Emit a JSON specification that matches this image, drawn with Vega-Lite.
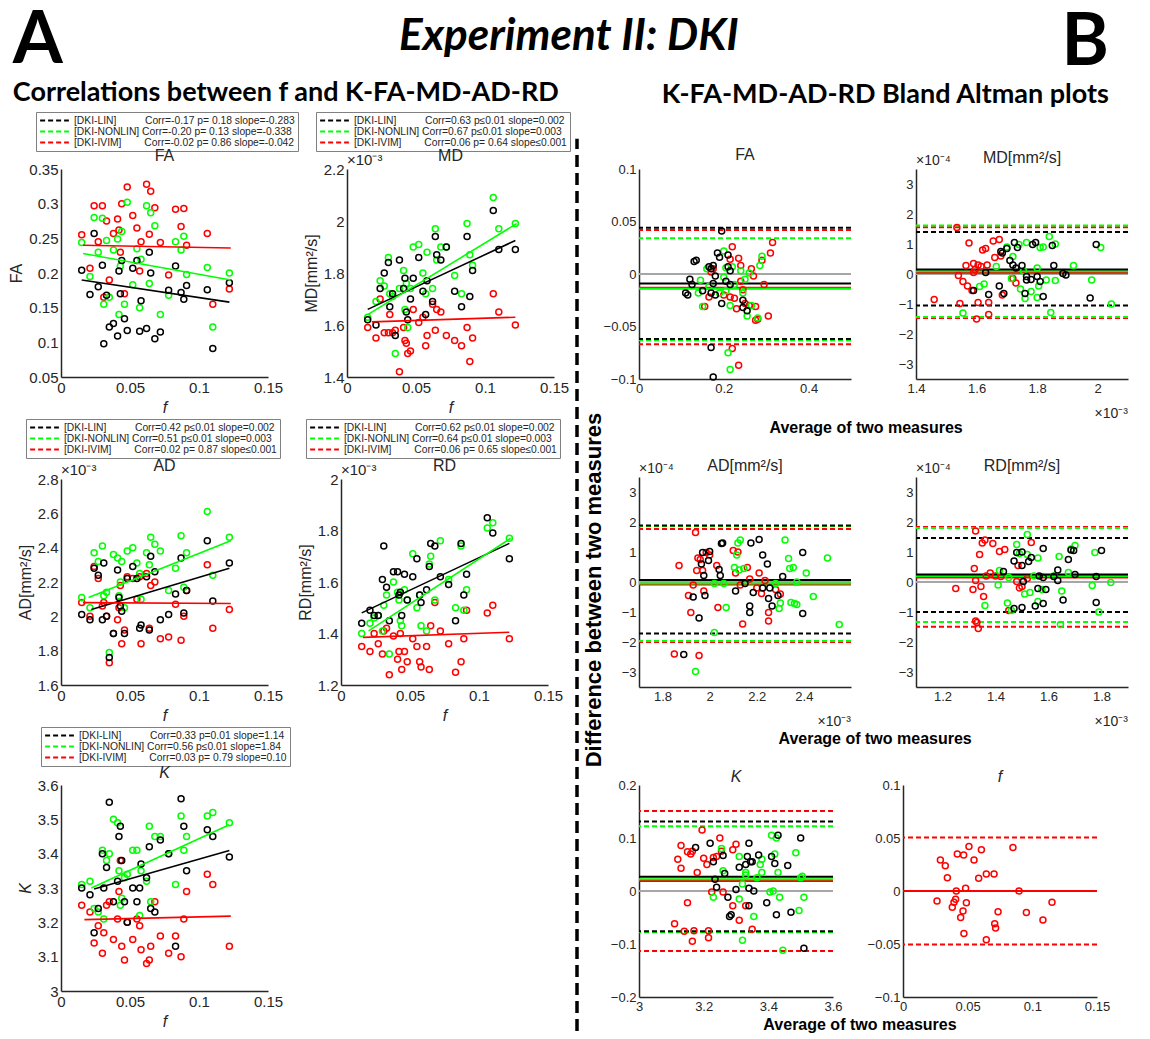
{
"$schema":"https://vega.github.io/schema/vega-lite/v6.json",
"background":"white",
"padding":{"left":8,"top":4,"right":4,"bottom":0},
"spacing":4,
"title":{"text":"Experiment II: DKI","anchor":"middle","font":"Lato","fontSize":44,"fontWeight":"bold","fontStyle":"italic","color":"#000000","offset":-54},
"resolve":{"scale":{"color":"independent"},"legend":{"color":"independent"}},
"datasets":{
"aFA":[
{"m":"I","x":0.015,"y":0.255},{"m":"I","x":0.021,"y":0.207},{"m":"I","x":0.024,"y":0.297},{"m":"I","x":0.027,"y":0.245},{"m":"I","x":0.030,"y":0.297},{"m":"I","x":0.031,"y":0.165},{"m":"I","x":0.033,"y":0.275},{"m":"I","x":0.035,"y":0.190},{"m":"I","x":0.038,"y":0.257},{"m":"I","x":0.041,"y":0.278},{"m":"I","x":0.042,"y":0.262},{"m":"I","x":0.043,"y":0.230},{"m":"I","x":0.044,"y":0.300},{"m":"I","x":0.046,"y":0.170},{"m":"I","x":0.048,"y":0.324},{"m":"I","x":0.052,"y":0.283},{"m":"I","x":0.055,"y":0.265},{"m":"I","x":0.057,"y":0.203},{"m":"I","x":0.058,"y":0.245},{"m":"I","x":0.062,"y":0.328},{"m":"I","x":0.064,"y":0.256},{"m":"I","x":0.065,"y":0.318},{"m":"I","x":0.068,"y":0.294},{"m":"I","x":0.072,"y":0.244},{"m":"I","x":0.078,"y":0.197},{"m":"I","x":0.083,"y":0.292},{"m":"I","x":0.087,"y":0.267},{"m":"I","x":0.089,"y":0.293},{"m":"I","x":0.091,"y":0.240},{"m":"I","x":0.106,"y":0.257},{"m":"I","x":0.110,"y":0.155},{"m":"I","x":0.122,"y":0.177},
{"m":"N","x":0.015,"y":0.244},{"m":"N","x":0.021,"y":0.195},{"m":"N","x":0.024,"y":0.280},{"m":"N","x":0.027,"y":0.230},{"m":"N","x":0.030,"y":0.279},{"m":"N","x":0.031,"y":0.155},{"m":"N","x":0.033,"y":0.247},{"m":"N","x":0.035,"y":0.165},{"m":"N","x":0.038,"y":0.233},{"m":"N","x":0.041,"y":0.249},{"m":"N","x":0.042,"y":0.140},{"m":"N","x":0.043,"y":0.210},{"m":"N","x":0.044,"y":0.260},{"m":"N","x":0.046,"y":0.155},{"m":"N","x":0.048,"y":0.302},{"m":"N","x":0.052,"y":0.183},{"m":"N","x":0.055,"y":0.235},{"m":"N","x":0.057,"y":0.150},{"m":"N","x":0.058,"y":0.220},{"m":"N","x":0.062,"y":0.297},{"m":"N","x":0.064,"y":0.185},{"m":"N","x":0.065,"y":0.287},{"m":"N","x":0.068,"y":0.268},{"m":"N","x":0.072,"y":0.140},{"m":"N","x":0.078,"y":0.168},{"m":"N","x":0.083,"y":0.245},{"m":"N","x":0.087,"y":0.233},{"m":"N","x":0.089,"y":0.253},{"m":"N","x":0.091,"y":0.198},{"m":"N","x":0.106,"y":0.208},{"m":"N","x":0.110,"y":0.122},{"m":"N","x":0.122,"y":0.200},
{"m":"L","x":0.015,"y":0.204},{"m":"L","x":0.021,"y":0.169},{"m":"L","x":0.024,"y":0.257},{"m":"L","x":0.027,"y":0.180},{"m":"L","x":0.030,"y":0.211},{"m":"L","x":0.031,"y":0.098},{"m":"L","x":0.033,"y":0.168},{"m":"L","x":0.035,"y":0.122},{"m":"L","x":0.038,"y":0.127},{"m":"L","x":0.041,"y":0.109},{"m":"L","x":0.042,"y":0.203},{"m":"L","x":0.043,"y":0.170},{"m":"L","x":0.044,"y":0.218},{"m":"L","x":0.046,"y":0.134},{"m":"L","x":0.048,"y":0.117},{"m":"L","x":0.052,"y":0.207},{"m":"L","x":0.055,"y":0.218},{"m":"L","x":0.057,"y":0.116},{"m":"L","x":0.058,"y":0.160},{"m":"L","x":0.062,"y":0.120},{"m":"L","x":0.064,"y":0.230},{"m":"L","x":0.065,"y":0.200},{"m":"L","x":0.068,"y":0.105},{"m":"L","x":0.072,"y":0.115},{"m":"L","x":0.078,"y":0.175},{"m":"L","x":0.083,"y":0.210},{"m":"L","x":0.087,"y":0.172},{"m":"L","x":0.089,"y":0.162},{"m":"L","x":0.091,"y":0.182},{"m":"L","x":0.106,"y":0.176},{"m":"L","x":0.110,"y":0.091},{"m":"L","x":0.122,"y":0.186}],
"lFA":[{"m":"L","x":0.015,"y":0.190},{"m":"L","x":0.122,"y":0.158},{"m":"N","x":0.016,"y":0.228},{"m":"N","x":0.123,"y":0.190},{"m":"I","x":0.016,"y":0.240},{"m":"I","x":0.123,"y":0.236}],
"aMD":[
{"m":"I","x":0.015,"y":1.59},{"m":"I","x":0.021,"y":1.55},{"m":"I","x":0.024,"y":1.70},{"m":"I","x":0.027,"y":1.57},{"m":"I","x":0.030,"y":1.57},{"m":"I","x":0.031,"y":1.64},{"m":"I","x":0.033,"y":1.57},{"m":"I","x":0.035,"y":1.58},{"m":"I","x":0.038,"y":1.42},{"m":"I","x":0.041,"y":1.59},{"m":"I","x":0.042,"y":1.54},{"m":"I","x":0.043,"y":1.53},{"m":"I","x":0.044,"y":1.49},{"m":"I","x":0.046,"y":1.50},{"m":"I","x":0.048,"y":1.66},{"m":"I","x":0.052,"y":1.61},{"m":"I","x":0.055,"y":1.63},{"m":"I","x":0.057,"y":1.52},{"m":"I","x":0.058,"y":1.56},{"m":"I","x":0.062,"y":1.68},{"m":"I","x":0.064,"y":1.58},{"m":"I","x":0.065,"y":1.66},{"m":"I","x":0.068,"y":1.65},{"m":"I","x":0.072,"y":1.56},{"m":"I","x":0.078,"y":1.54},{"m":"I","x":0.083,"y":1.52},{"m":"I","x":0.087,"y":1.59},{"m":"I","x":0.089,"y":1.46},{"m":"I","x":0.091,"y":1.55},{"m":"I","x":0.106,"y":1.72},{"m":"I","x":0.110,"y":1.65},{"m":"I","x":0.122,"y":1.60},
{"m":"N","x":0.015,"y":1.63},{"m":"N","x":0.021,"y":1.69},{"m":"N","x":0.024,"y":1.77},{"m":"N","x":0.027,"y":1.75},{"m":"N","x":0.030,"y":1.86},{"m":"N","x":0.031,"y":1.72},{"m":"N","x":0.033,"y":1.71},{"m":"N","x":0.035,"y":1.49},{"m":"N","x":0.038,"y":1.74},{"m":"N","x":0.041,"y":1.81},{"m":"N","x":0.042,"y":1.66},{"m":"N","x":0.043,"y":1.76},{"m":"N","x":0.044,"y":1.59},{"m":"N","x":0.046,"y":1.74},{"m":"N","x":0.048,"y":1.90},{"m":"N","x":0.052,"y":1.91},{"m":"N","x":0.055,"y":1.80},{"m":"N","x":0.057,"y":1.72},{"m":"N","x":0.058,"y":1.88},{"m":"N","x":0.062,"y":1.74},{"m":"N","x":0.064,"y":1.97},{"m":"N","x":0.065,"y":1.85},{"m":"N","x":0.068,"y":1.90},{"m":"N","x":0.072,"y":1.90},{"m":"N","x":0.078,"y":1.79},{"m":"N","x":0.083,"y":1.72},{"m":"N","x":0.087,"y":1.99},{"m":"N","x":0.089,"y":1.87},{"m":"N","x":0.091,"y":1.83},{"m":"N","x":0.106,"y":2.09},{"m":"N","x":0.110,"y":1.97},{"m":"N","x":0.122,"y":1.99},
{"m":"L","x":0.015,"y":1.62},{"m":"L","x":0.021,"y":1.60},{"m":"L","x":0.024,"y":1.74},{"m":"L","x":0.027,"y":1.80},{"m":"L","x":0.030,"y":1.84},{"m":"L","x":0.031,"y":1.67},{"m":"L","x":0.033,"y":1.72},{"m":"L","x":0.035,"y":1.56},{"m":"L","x":0.038,"y":1.85},{"m":"L","x":0.041,"y":1.74},{"m":"L","x":0.042,"y":1.78},{"m":"L","x":0.043,"y":1.65},{"m":"L","x":0.044,"y":1.62},{"m":"L","x":0.046,"y":1.70},{"m":"L","x":0.048,"y":1.78},{"m":"L","x":0.052,"y":1.86},{"m":"L","x":0.055,"y":1.73},{"m":"L","x":0.057,"y":1.64},{"m":"L","x":0.058,"y":1.77},{"m":"L","x":0.062,"y":1.69},{"m":"L","x":0.064,"y":1.94},{"m":"L","x":0.065,"y":1.87},{"m":"L","x":0.068,"y":1.85},{"m":"L","x":0.072,"y":1.90},{"m":"L","x":0.078,"y":1.73},{"m":"L","x":0.083,"y":1.67},{"m":"L","x":0.087,"y":1.94},{"m":"L","x":0.089,"y":1.71},{"m":"L","x":0.091,"y":1.81},{"m":"L","x":0.106,"y":2.04},{"m":"L","x":0.110,"y":1.89},{"m":"L","x":0.122,"y":1.89}],
"lMD":[{"m":"L","x":0.015,"y":1.660},{"m":"L","x":0.122,"y":1.925},{"m":"N","x":0.015,"y":1.640},{"m":"N","x":0.123,"y":1.990},{"m":"I","x":0.018,"y":1.612},{"m":"I","x":0.122,"y":1.630}],
"aAD":[
{"m":"I","x":0.015,"y":2.08},{"m":"I","x":0.021,"y":2.00},{"m":"I","x":0.024,"y":2.29},{"m":"I","x":0.027,"y":2.22},{"m":"I","x":0.030,"y":2.06},{"m":"I","x":0.031,"y":2.08},{"m":"I","x":0.033,"y":2.00},{"m":"I","x":0.035,"y":1.73},{"m":"I","x":0.038,"y":1.90},{"m":"I","x":0.041,"y":1.98},{"m":"I","x":0.042,"y":2.05},{"m":"I","x":0.043,"y":2.18},{"m":"I","x":0.044,"y":1.84},{"m":"I","x":0.046,"y":1.92},{"m":"I","x":0.048,"y":2.23},{"m":"I","x":0.052,"y":2.22},{"m":"I","x":0.055,"y":2.10},{"m":"I","x":0.057,"y":2.23},{"m":"I","x":0.058,"y":1.84},{"m":"I","x":0.062,"y":2.25},{"m":"I","x":0.064,"y":1.93},{"m":"I","x":0.065,"y":2.18},{"m":"I","x":0.068,"y":2.20},{"m":"I","x":0.072,"y":1.87},{"m":"I","x":0.078,"y":1.88},{"m":"I","x":0.083,"y":2.07},{"m":"I","x":0.087,"y":1.86},{"m":"I","x":0.089,"y":2.00},{"m":"I","x":0.091,"y":2.15},{"m":"I","x":0.106,"y":2.30},{"m":"I","x":0.110,"y":1.93},{"m":"I","x":0.122,"y":2.04},
{"m":"N","x":0.015,"y":2.11},{"m":"N","x":0.021,"y":2.05},{"m":"N","x":0.024,"y":2.37},{"m":"N","x":0.027,"y":2.32},{"m":"N","x":0.030,"y":2.41},{"m":"N","x":0.031,"y":2.12},{"m":"N","x":0.033,"y":2.14},{"m":"N","x":0.035,"y":1.79},{"m":"N","x":0.038,"y":2.36},{"m":"N","x":0.041,"y":2.34},{"m":"N","x":0.042,"y":2.12},{"m":"N","x":0.043,"y":2.20},{"m":"N","x":0.044,"y":2.32},{"m":"N","x":0.046,"y":2.05},{"m":"N","x":0.048,"y":2.38},{"m":"N","x":0.052,"y":2.40},{"m":"N","x":0.055,"y":2.31},{"m":"N","x":0.057,"y":2.25},{"m":"N","x":0.058,"y":2.10},{"m":"N","x":0.062,"y":2.37},{"m":"N","x":0.064,"y":2.30},{"m":"N","x":0.065,"y":2.46},{"m":"N","x":0.068,"y":2.42},{"m":"N","x":0.072,"y":2.38},{"m":"N","x":0.078,"y":2.15},{"m":"N","x":0.083,"y":2.28},{"m":"N","x":0.087,"y":2.47},{"m":"N","x":0.089,"y":2.17},{"m":"N","x":0.091,"y":2.37},{"m":"N","x":0.106,"y":2.61},{"m":"N","x":0.110,"y":2.24},{"m":"N","x":0.122,"y":2.46},
{"m":"L","x":0.015,"y":2.01},{"m":"L","x":0.021,"y":1.98},{"m":"L","x":0.024,"y":2.28},{"m":"L","x":0.027,"y":2.24},{"m":"L","x":0.030,"y":1.98},{"m":"L","x":0.031,"y":2.31},{"m":"L","x":0.033,"y":2.00},{"m":"L","x":0.035,"y":1.76},{"m":"L","x":0.038,"y":1.90},{"m":"L","x":0.041,"y":2.27},{"m":"L","x":0.042,"y":2.11},{"m":"L","x":0.043,"y":2.06},{"m":"L","x":0.044,"y":2.03},{"m":"L","x":0.046,"y":1.90},{"m":"L","x":0.048,"y":2.22},{"m":"L","x":0.052,"y":2.29},{"m":"L","x":0.055,"y":2.22},{"m":"L","x":0.057,"y":1.93},{"m":"L","x":0.058,"y":1.95},{"m":"L","x":0.062,"y":2.23},{"m":"L","x":0.064,"y":1.92},{"m":"L","x":0.065,"y":2.35},{"m":"L","x":0.068,"y":2.26},{"m":"L","x":0.072,"y":1.98},{"m":"L","x":0.078,"y":2.01},{"m":"L","x":0.083,"y":2.13},{"m":"L","x":0.087,"y":2.34},{"m":"L","x":0.089,"y":2.02},{"m":"L","x":0.091,"y":2.15},{"m":"L","x":0.106,"y":2.44},{"m":"L","x":0.110,"y":2.09},{"m":"L","x":0.122,"y":2.31}],
"lAD":[{"m":"L","x":0.022,"y":2.040},{"m":"L","x":0.122,"y":2.280},{"m":"N","x":0.020,"y":2.110},{"m":"N","x":0.123,"y":2.440},{"m":"I","x":0.016,"y":2.080},{"m":"I","x":0.123,"y":2.075}],
"aRD":[
{"m":"I","x":0.015,"y":1.35},{"m":"I","x":0.021,"y":1.33},{"m":"I","x":0.024,"y":1.40},{"m":"I","x":0.027,"y":1.36},{"m":"I","x":0.030,"y":1.32},{"m":"I","x":0.031,"y":1.41},{"m":"I","x":0.033,"y":1.42},{"m":"I","x":0.035,"y":1.24},{"m":"I","x":0.038,"y":1.39},{"m":"I","x":0.041,"y":1.30},{"m":"I","x":0.042,"y":1.33},{"m":"I","x":0.043,"y":1.40},{"m":"I","x":0.044,"y":1.26},{"m":"I","x":0.046,"y":1.33},{"m":"I","x":0.048,"y":1.29},{"m":"I","x":0.052,"y":1.38},{"m":"I","x":0.055,"y":1.35},{"m":"I","x":0.057,"y":1.29},{"m":"I","x":0.058,"y":1.27},{"m":"I","x":0.062,"y":1.35},{"m":"I","x":0.064,"y":1.26},{"m":"I","x":0.065,"y":1.43},{"m":"I","x":0.068,"y":1.52},{"m":"I","x":0.072,"y":1.41},{"m":"I","x":0.078,"y":1.36},{"m":"I","x":0.083,"y":1.25},{"m":"I","x":0.087,"y":1.29},{"m":"I","x":0.089,"y":1.38},{"m":"I","x":0.091,"y":1.49},{"m":"I","x":0.106,"y":1.48},{"m":"I","x":0.110,"y":1.51},{"m":"I","x":0.122,"y":1.38},
{"m":"N","x":0.015,"y":1.40},{"m":"N","x":0.021,"y":1.44},{"m":"N","x":0.024,"y":1.46},{"m":"N","x":0.027,"y":1.47},{"m":"N","x":0.030,"y":1.41},{"m":"N","x":0.031,"y":1.51},{"m":"N","x":0.033,"y":1.55},{"m":"N","x":0.035,"y":1.32},{"m":"N","x":0.038,"y":1.60},{"m":"N","x":0.041,"y":1.56},{"m":"N","x":0.042,"y":1.53},{"m":"N","x":0.043,"y":1.45},{"m":"N","x":0.044,"y":1.43},{"m":"N","x":0.046,"y":1.57},{"m":"N","x":0.048,"y":1.53},{"m":"N","x":0.052,"y":1.71},{"m":"N","x":0.055,"y":1.50},{"m":"N","x":0.057,"y":1.55},{"m":"N","x":0.058,"y":1.43},{"m":"N","x":0.062,"y":1.41},{"m":"N","x":0.064,"y":1.67},{"m":"N","x":0.065,"y":1.70},{"m":"N","x":0.068,"y":1.53},{"m":"N","x":0.072,"y":1.76},{"m":"N","x":0.078,"y":1.61},{"m":"N","x":0.083,"y":1.50},{"m":"N","x":0.087,"y":1.74},{"m":"N","x":0.089,"y":1.49},{"m":"N","x":0.091,"y":1.57},{"m":"N","x":0.106,"y":1.81},{"m":"N","x":0.110,"y":1.83},{"m":"N","x":0.122,"y":1.77},
{"m":"L","x":0.015,"y":1.44},{"m":"L","x":0.021,"y":1.49},{"m":"L","x":0.024,"y":1.47},{"m":"L","x":0.027,"y":1.47},{"m":"L","x":0.030,"y":1.61},{"m":"L","x":0.031,"y":1.74},{"m":"L","x":0.033,"y":1.58},{"m":"L","x":0.035,"y":1.45},{"m":"L","x":0.038,"y":1.64},{"m":"L","x":0.041,"y":1.64},{"m":"L","x":0.042,"y":1.55},{"m":"L","x":0.043,"y":1.56},{"m":"L","x":0.044,"y":1.47},{"m":"L","x":0.046,"y":1.63},{"m":"L","x":0.048,"y":1.53},{"m":"L","x":0.052,"y":1.62},{"m":"L","x":0.055,"y":1.69},{"m":"L","x":0.057,"y":1.55},{"m":"L","x":0.058,"y":1.52},{"m":"L","x":0.062,"y":1.57},{"m":"L","x":0.064,"y":1.66},{"m":"L","x":0.065,"y":1.75},{"m":"L","x":0.068,"y":1.74},{"m":"L","x":0.072,"y":1.62},{"m":"L","x":0.078,"y":1.59},{"m":"L","x":0.083,"y":1.45},{"m":"L","x":0.087,"y":1.75},{"m":"L","x":0.089,"y":1.55},{"m":"L","x":0.091,"y":1.63},{"m":"L","x":0.106,"y":1.85},{"m":"L","x":0.110,"y":1.79},{"m":"L","x":0.122,"y":1.69}],
"lRD":[{"m":"L","x":0.015,"y":1.480},{"m":"L","x":0.122,"y":1.750},{"m":"N","x":0.020,"y":1.410},{"m":"N","x":0.123,"y":1.770},{"m":"I","x":0.016,"y":1.385},{"m":"I","x":0.122,"y":1.405}],
"aK":[
{"m":"I","x":0.015,"y":3.25},{"m":"I","x":0.021,"y":3.23},{"m":"I","x":0.024,"y":3.14},{"m":"I","x":0.027,"y":3.19},{"m":"I","x":0.030,"y":3.11},{"m":"I","x":0.031,"y":3.17},{"m":"I","x":0.033,"y":3.25},{"m":"I","x":0.035,"y":3.26},{"m":"I","x":0.038,"y":3.15},{"m":"I","x":0.041,"y":3.21},{"m":"I","x":0.042,"y":3.29},{"m":"I","x":0.043,"y":3.38},{"m":"I","x":0.044,"y":3.13},{"m":"I","x":0.046,"y":3.09},{"m":"I","x":0.048,"y":3.20},{"m":"I","x":0.052,"y":3.15},{"m":"I","x":0.055,"y":3.21},{"m":"I","x":0.057,"y":3.19},{"m":"I","x":0.058,"y":3.12},{"m":"I","x":0.062,"y":3.08},{"m":"I","x":0.064,"y":3.09},{"m":"I","x":0.065,"y":3.13},{"m":"I","x":0.068,"y":3.26},{"m":"I","x":0.072,"y":3.16},{"m":"I","x":0.078,"y":3.11},{"m":"I","x":0.083,"y":3.16},{"m":"I","x":0.087,"y":3.10},{"m":"I","x":0.089,"y":3.21},{"m":"I","x":0.091,"y":3.29},{"m":"I","x":0.106,"y":3.34},{"m":"I","x":0.110,"y":3.31},{"m":"I","x":0.122,"y":3.13},
{"m":"N","x":0.015,"y":3.31},{"m":"N","x":0.021,"y":3.32},{"m":"N","x":0.024,"y":3.24},{"m":"N","x":0.027,"y":3.23},{"m":"N","x":0.030,"y":3.41},{"m":"N","x":0.031,"y":3.21},{"m":"N","x":0.033,"y":3.38},{"m":"N","x":0.035,"y":3.40},{"m":"N","x":0.038,"y":3.50},{"m":"N","x":0.041,"y":3.49},{"m":"N","x":0.042,"y":3.35},{"m":"N","x":0.043,"y":3.25},{"m":"N","x":0.044,"y":3.27},{"m":"N","x":0.046,"y":3.33},{"m":"N","x":0.048,"y":3.34},{"m":"N","x":0.052,"y":3.41},{"m":"N","x":0.055,"y":3.41},{"m":"N","x":0.057,"y":3.22},{"m":"N","x":0.058,"y":3.35},{"m":"N","x":0.062,"y":3.32},{"m":"N","x":0.064,"y":3.48},{"m":"N","x":0.065,"y":3.26},{"m":"N","x":0.068,"y":3.45},{"m":"N","x":0.072,"y":3.45},{"m":"N","x":0.078,"y":3.40},{"m":"N","x":0.083,"y":3.31},{"m":"N","x":0.087,"y":3.51},{"m":"N","x":0.089,"y":3.41},{"m":"N","x":0.091,"y":3.45},{"m":"N","x":0.106,"y":3.51},{"m":"N","x":0.110,"y":3.52},{"m":"N","x":0.122,"y":3.49},
{"m":"L","x":0.015,"y":3.30},{"m":"L","x":0.021,"y":3.28},{"m":"L","x":0.024,"y":3.17},{"m":"L","x":0.027,"y":3.24},{"m":"L","x":0.030,"y":3.40},{"m":"L","x":0.031,"y":3.30},{"m":"L","x":0.033,"y":3.36},{"m":"L","x":0.035,"y":3.55},{"m":"L","x":0.038,"y":3.26},{"m":"L","x":0.041,"y":3.32},{"m":"L","x":0.042,"y":3.45},{"m":"L","x":0.043,"y":3.48},{"m":"L","x":0.044,"y":3.38},{"m":"L","x":0.046,"y":3.26},{"m":"L","x":0.048,"y":3.20},{"m":"L","x":0.052,"y":3.30},{"m":"L","x":0.055,"y":3.26},{"m":"L","x":0.057,"y":3.30},{"m":"L","x":0.058,"y":3.37},{"m":"L","x":0.062,"y":3.33},{"m":"L","x":0.064,"y":3.42},{"m":"L","x":0.065,"y":3.24},{"m":"L","x":0.068,"y":3.23},{"m":"L","x":0.072,"y":3.44},{"m":"L","x":0.078,"y":3.40},{"m":"L","x":0.083,"y":3.13},{"m":"L","x":0.087,"y":3.56},{"m":"L","x":0.089,"y":3.48},{"m":"L","x":0.091,"y":3.35},{"m":"L","x":0.106,"y":3.47},{"m":"L","x":0.110,"y":3.45},{"m":"L","x":0.122,"y":3.39}],
"lK":[{"m":"L","x":0.024,"y":3.297},{"m":"L","x":0.122,"y":3.409},{"m":"N","x":0.022,"y":3.300},{"m":"N","x":0.122,"y":3.484},{"m":"I","x":0.017,"y":3.208},{"m":"I","x":0.123,"y":3.218}],
"bFA":[
{"m":"I","x":0.155,"y":-0.031},{"m":"I","x":0.165,"y":-0.022},{"m":"I","x":0.17,"y":0.002},{"m":"I","x":0.175,"y":0.005},{"m":"I","x":0.215,"y":-0.022},{"m":"I","x":0.22,"y":0.026},{"m":"I","x":0.22,"y":-0.071},{"m":"I","x":0.225,"y":-0.023},{"m":"I","x":0.23,"y":-0.033},{"m":"I","x":0.235,"y":0.015},{"m":"I","x":0.235,"y":-0.087},{"m":"I","x":0.24,"y":0.008},{"m":"I","x":0.24,"y":-0.007},{"m":"I","x":0.245,"y":-0.015},{"m":"I","x":0.25,"y":-0.028},{"m":"I","x":0.26,"y":-0.03},{"m":"I","x":0.265,"y":0.005},{"m":"I","x":0.27,"y":-0.002},{"m":"I","x":0.275,"y":-0.031},{"m":"I","x":0.275,"y":-0.044},{"m":"I","x":0.28,"y":-0.043},{"m":"I","x":0.29,"y":0.013},{"m":"I","x":0.295,"y":-0.01},{"m":"I","x":0.305,"y":-0.04},{"m":"I","x":0.31,"y":0.02},{"m":"I","x":0.315,"y":0.03},{"m":"I","x":0.2,"y":-0.02},{"m":"I","x":0.215,"y":0.014},
{"m":"N","x":0.14,"y":-0.018},{"m":"N","x":0.145,"y":-0.006},{"m":"N","x":0.15,"y":-0.031},{"m":"N","x":0.16,"y":0.005},{"m":"N","x":0.165,"y":-0.012},{"m":"N","x":0.19,"y":-0.018},{"m":"N","x":0.2,"y":0.022},{"m":"N","x":0.205,"y":0.006},{"m":"N","x":0.205,"y":-0.016},{"m":"N","x":0.21,"y":-0.075},{"m":"N","x":0.215,"y":-0.03},{"m":"N","x":0.215,"y":-0.091},{"m":"N","x":0.22,"y":0.007},{"m":"N","x":0.24,"y":0.003},{"m":"N","x":0.245,"y":-0.018},{"m":"N","x":0.25,"y":-0.005},{"m":"N","x":0.255,"y":-0.04},{"m":"N","x":0.26,"y":0.001},{"m":"N","x":0.265,"y":-0.03},{"m":"N","x":0.28,"y":-0.042},{"m":"N","x":0.285,"y":0.008},{"m":"N","x":0.29,"y":0.017},{"m":"N","x":0.2,"y":-0.003},{"m":"N","x":0.225,"y":-0.01},
{"m":"L","x":0.11,"y":-0.018},{"m":"L","x":0.115,"y":-0.02},{"m":"L","x":0.12,"y":-0.005},{"m":"L","x":0.125,"y":-0.01},{"m":"L","x":0.13,"y":0.012},{"m":"L","x":0.135,"y":0.013},{"m":"L","x":0.15,"y":-0.016},{"m":"L","x":0.165,"y":0.007},{"m":"L","x":0.17,"y":0.005},{"m":"L","x":0.17,"y":-0.07},{"m":"L","x":0.175,"y":-0.098},{"m":"L","x":0.175,"y":0.008},{"m":"L","x":0.18,"y":-0.002},{"m":"L","x":0.18,"y":-0.02},{"m":"L","x":0.185,"y":0.02},{"m":"L","x":0.19,"y":0.016},{"m":"L","x":0.195,"y":0.041},{"m":"L","x":0.195,"y":-0.028},{"m":"L","x":0.205,"y":-0.007},{"m":"L","x":0.21,"y":0.018},{"m":"L","x":0.21,"y":0.007},{"m":"L","x":0.215,"y":0.003},{"m":"L","x":0.215,"y":-0.01},{"m":"L","x":0.245,"y":-0.025},{"m":"L","x":0.245,"y":-0.032},{"m":"L","x":0.255,"y":-0.035},{"m":"L","x":0.175,"y":-0.009},{"m":"L","x":0.17,"y":-0.018}],
"rFA":[{"m":"Z","k":"s","y":0},{"m":"I","k":"s","y":-0.013},{"m":"N","k":"s","y":-0.014},{"m":"L","k":"s","y":-0.009},{"m":"I","k":"d","y":0.042},{"m":"I","k":"d","y":-0.067},{"m":"N","k":"d","y":0.034},{"m":"N","k":"d","y":-0.063},{"m":"L","k":"d","y":0.044},{"m":"L","k":"d","y":-0.062}],
"bMD":[
{"m":"I","x":1.46,"y":-0.85},{"m":"I","x":1.535,"y":1.55},{"m":"I","x":1.54,"y":-0.05},{"m":"I","x":1.545,"y":-0.98},{"m":"I","x":1.555,"y":-0.25},{"m":"I","x":1.565,"y":0.28},{"m":"I","x":1.57,"y":-0.4},{"m":"I","x":1.575,"y":1.03},{"m":"I","x":1.585,"y":-0.55},{"m":"I","x":1.59,"y":0.35},{"m":"I","x":1.595,"y":0.15},{"m":"I","x":1.6,"y":-1.5},{"m":"I","x":1.605,"y":0.3},{"m":"I","x":1.605,"y":-0.95},{"m":"I","x":1.615,"y":0.25},{"m":"I","x":1.62,"y":0.8},{"m":"I","x":1.63,"y":0.85},{"m":"I","x":1.635,"y":0.3},{"m":"I","x":1.64,"y":-0.95},{"m":"I","x":1.64,"y":-1.35},{"m":"I","x":1.655,"y":1.1},{"m":"I","x":1.66,"y":0.55},{"m":"I","x":1.675,"y":1.15},{"m":"I","x":1.68,"y":0.6},{"m":"I","x":1.685,"y":-0.7},{"m":"I","x":1.73,"y":-0.3},{"m":"I","x":1.72,"y":-0.15},{"m":"I","x":1.59,"y":0.05},
{"m":"N","x":1.555,"y":-1.3},{"m":"N","x":1.61,"y":-0.42},{"m":"N","x":1.625,"y":-0.33},{"m":"N","x":1.665,"y":0.25},{"m":"N","x":1.7,"y":0.9},{"m":"N","x":1.72,"y":0.58},{"m":"N","x":1.715,"y":-0.15},{"m":"N","x":1.74,"y":0.98},{"m":"N","x":1.745,"y":-0.5},{"m":"N","x":1.76,"y":-0.82},{"m":"N","x":1.765,"y":1.05},{"m":"N","x":1.78,"y":-0.58},{"m":"N","x":1.8,"y":-0.78},{"m":"N","x":1.805,"y":-0.4},{"m":"N","x":1.81,"y":0.88},{"m":"N","x":1.82,"y":0.9},{"m":"N","x":1.83,"y":-0.2},{"m":"N","x":1.84,"y":1.25},{"m":"N","x":1.845,"y":-1.28},{"m":"N","x":1.86,"y":1.0},{"m":"N","x":1.86,"y":-0.22},{"m":"N","x":1.92,"y":0.28},{"m":"N","x":1.98,"y":-0.2},{"m":"N","x":2.01,"y":0.88},{"m":"N","x":2.045,"y":-1.0},{"m":"N","x":1.755,"y":0.1},{"m":"N","x":1.8,"y":0.2},
{"m":"L","x":1.59,"y":-0.55},{"m":"L","x":1.63,"y":0.05},{"m":"L","x":1.64,"y":-0.68},{"m":"L","x":1.675,"y":-0.4},{"m":"L","x":1.68,"y":0.75},{"m":"L","x":1.685,"y":0.7},{"m":"L","x":1.69,"y":-0.65},{"m":"L","x":1.71,"y":0.45},{"m":"L","x":1.72,"y":0.3},{"m":"L","x":1.725,"y":1.05},{"m":"L","x":1.73,"y":0.2},{"m":"L","x":1.735,"y":0.88},{"m":"L","x":1.75,"y":0.28},{"m":"L","x":1.76,"y":-0.65},{"m":"L","x":1.765,"y":-0.2},{"m":"L","x":1.765,"y":-0.08},{"m":"L","x":1.78,"y":-0.18},{"m":"L","x":1.785,"y":0.98},{"m":"L","x":1.795,"y":1.05},{"m":"L","x":1.8,"y":-0.08},{"m":"L","x":1.81,"y":-0.25},{"m":"L","x":1.82,"y":-0.75},{"m":"L","x":1.85,"y":0.95},{"m":"L","x":1.855,"y":0.28},{"m":"L","x":1.885,"y":0.02},{"m":"L","x":1.895,"y":-0.03},{"m":"L","x":1.975,"y":-0.8},{"m":"L","x":1.995,"y":0.98},{"m":"L","x":1.7,"y":0.85}],
"rMD":[{"m":"Z","k":"s","y":0},{"m":"I","k":"s","y":0.04},{"m":"N","k":"s","y":0.09},{"m":"L","k":"s","y":0.15},{"m":"I","k":"d","y":1.56},{"m":"I","k":"d","y":-1.47},{"m":"N","k":"d","y":1.62},{"m":"N","k":"d","y":-1.43},{"m":"L","k":"d","y":1.40},{"m":"L","k":"d","y":-1.05}],
"bAD":[
{"m":"I","x":1.85,"y":-2.4},{"m":"I","x":1.87,"y":0.55},{"m":"I","x":1.91,"y":-0.45},{"m":"I","x":1.92,"y":-1.02},{"m":"I","x":1.93,"y":-0.1},{"m":"I","x":1.94,"y":1.65},{"m":"I","x":1.945,"y":0.38},{"m":"I","x":1.95,"y":0.8},{"m":"I","x":1.955,"y":-2.45},{"m":"I","x":1.96,"y":0.75},{"m":"I","x":1.97,"y":0.38},{"m":"I","x":1.975,"y":-0.3},{"m":"I","x":1.985,"y":0.98},{"m":"I","x":2.0,"y":0.9},{"m":"I","x":2.03,"y":0.55},{"m":"I","x":2.035,"y":-0.85},{"m":"I","x":2.1,"y":1.05},{"m":"I","x":2.11,"y":0.3},{"m":"I","x":2.12,"y":1.0},{"m":"I","x":2.13,"y":-0.1},{"m":"I","x":2.14,"y":-1.4},{"m":"I","x":2.16,"y":0.48},{"m":"I","x":2.17,"y":0.1},{"m":"I","x":2.2,"y":-0.2},{"m":"I","x":2.21,"y":0.3},{"m":"I","x":2.22,"y":-0.38},{"m":"I","x":2.235,"y":0.05},{"m":"I","x":2.25,"y":-1.02},{"m":"I","x":2.25,"y":-1.3},{"m":"I","x":2.28,"y":-0.25},{"m":"I","x":2.3,"y":-0.4},
{"m":"N","x":1.94,"y":-2.98},{"m":"N","x":2.02,"y":-1.68},{"m":"N","x":2.02,"y":-0.05},{"m":"N","x":2.06,"y":-0.05},{"m":"N","x":2.07,"y":-0.85},{"m":"N","x":2.105,"y":0.48},{"m":"N","x":2.115,"y":0.9},{"m":"N","x":2.12,"y":1.3},{"m":"N","x":2.13,"y":1.4},{"m":"N","x":2.125,"y":0.4},{"m":"N","x":2.145,"y":0.45},{"m":"N","x":2.28,"y":-0.05},{"m":"N","x":2.295,"y":-0.88},{"m":"N","x":2.3,"y":-0.7},{"m":"N","x":2.32,"y":1.4},{"m":"N","x":2.335,"y":0.78},{"m":"N","x":2.34,"y":0.45},{"m":"N","x":2.345,"y":-0.68},{"m":"N","x":2.355,"y":0.48},{"m":"N","x":2.36,"y":-0.72},{"m":"N","x":2.37,"y":-0.75},{"m":"N","x":2.37,"y":0.0},{"m":"N","x":2.41,"y":0.3},{"m":"N","x":2.44,"y":-0.48},{"m":"N","x":2.5,"y":0.8},{"m":"N","x":2.55,"y":-1.42},
{"m":"L","x":1.89,"y":-2.42},{"m":"L","x":1.93,"y":-0.5},{"m":"L","x":1.955,"y":-1.2},{"m":"L","x":1.965,"y":0.6},{"m":"L","x":1.97,"y":0.98},{"m":"L","x":1.975,"y":0.22},{"m":"L","x":1.98,"y":-0.45},{"m":"L","x":1.995,"y":0.72},{"m":"L","x":2.0,"y":1.02},{"m":"L","x":2.04,"y":0.42},{"m":"L","x":2.045,"y":0.22},{"m":"L","x":2.05,"y":1.28},{"m":"L","x":2.055,"y":1.3},{"m":"L","x":2.11,"y":-0.3},{"m":"L","x":2.15,"y":-0.05},{"m":"L","x":2.17,"y":-0.8},{"m":"L","x":2.17,"y":-1.02},{"m":"L","x":2.175,"y":1.3},{"m":"L","x":2.185,"y":-0.35},{"m":"L","x":2.21,"y":1.42},{"m":"L","x":2.225,"y":0.9},{"m":"L","x":2.225,"y":-0.2},{"m":"L","x":2.245,"y":0.6},{"m":"L","x":2.25,"y":-0.55},{"m":"L","x":2.255,"y":-0.2},{"m":"L","x":2.265,"y":-0.8},{"m":"L","x":2.29,"y":-0.45},{"m":"L","x":2.31,"y":0.18},{"m":"L","x":2.395,"y":0.98},{"m":"L","x":2.395,"y":-1.05}],
"rAD":[{"m":"Z","k":"s","y":0},{"m":"I","k":"s","y":-0.08},{"m":"N","k":"s","y":-0.05},{"m":"L","k":"s","y":0.07},{"m":"I","k":"d","y":1.77},{"m":"I","k":"d","y":-2.0},{"m":"N","k":"d","y":1.86},{"m":"N","k":"d","y":-1.97},{"m":"L","k":"d","y":1.88},{"m":"L","k":"d","y":-1.72}],
"bRD":[
{"m":"I","x":1.25,"y":-0.22},{"m":"I","x":1.315,"y":-0.25},{"m":"I","x":1.32,"y":0.45},{"m":"I","x":1.325,"y":1.7},{"m":"I","x":1.325,"y":0.05},{"m":"I","x":1.325,"y":-1.3},{"m":"I","x":1.33,"y":-1.35},{"m":"I","x":1.335,"y":-1.55},{"m":"I","x":1.34,"y":0.92},{"m":"I","x":1.345,"y":-0.15},{"m":"I","x":1.35,"y":1.3},{"m":"I","x":1.355,"y":-0.48},{"m":"I","x":1.36,"y":1.4},{"m":"I","x":1.365,"y":0.2},{"m":"I","x":1.38,"y":0.3},{"m":"I","x":1.39,"y":1.28},{"m":"I","x":1.415,"y":1.02},{"m":"I","x":1.42,"y":0.18},{"m":"I","x":1.435,"y":1.08},{"m":"I","x":1.45,"y":-0.95},{"m":"I","x":1.48,"y":0.02},{"m":"I","x":1.485,"y":0.55},{"m":"I","x":1.49,"y":-0.2},{"m":"I","x":1.5,"y":-0.15},{"m":"I","x":1.535,"y":1.32},{"m":"I","x":1.52,"y":0.12},{"m":"I","x":1.4,"y":0.2},
{"m":"N","x":1.36,"y":-0.78},{"m":"N","x":1.41,"y":-0.1},{"m":"N","x":1.415,"y":0.38},{"m":"N","x":1.445,"y":-0.7},{"m":"N","x":1.45,"y":0.15},{"m":"N","x":1.46,"y":-0.95},{"m":"N","x":1.48,"y":1.25},{"m":"N","x":1.49,"y":0.95},{"m":"N","x":1.51,"y":-0.4},{"m":"N","x":1.52,"y":1.58},{"m":"N","x":1.52,"y":0.92},{"m":"N","x":1.53,"y":-0.35},{"m":"N","x":1.545,"y":0.2},{"m":"N","x":1.56,"y":0.8},{"m":"N","x":1.56,"y":-0.65},{"m":"N","x":1.575,"y":-0.25},{"m":"N","x":1.62,"y":0.2},{"m":"N","x":1.64,"y":0.85},{"m":"N","x":1.645,"y":-1.42},{"m":"N","x":1.65,"y":-0.3},{"m":"N","x":1.675,"y":0.32},{"m":"N","x":1.685,"y":1.1},{"m":"N","x":1.7,"y":1.22},{"m":"N","x":1.765,"y":-0.12},{"m":"N","x":1.775,"y":0.98},{"m":"N","x":1.79,"y":-1.0},{"m":"N","x":1.835,"y":-0.02},
{"m":"L","x":1.43,"y":0.35},{"m":"L","x":1.47,"y":0.7},{"m":"L","x":1.47,"y":-0.88},{"m":"L","x":1.48,"y":0.98},{"m":"L","x":1.5,"y":1.0},{"m":"L","x":1.5,"y":0.55},{"m":"L","x":1.5,"y":-0.85},{"m":"L","x":1.505,"y":0.02},{"m":"L","x":1.525,"y":0.68},{"m":"L","x":1.535,"y":0.82},{"m":"L","x":1.55,"y":-0.8},{"m":"L","x":1.56,"y":-0.22},{"m":"L","x":1.565,"y":0.2},{"m":"L","x":1.58,"y":1.12},{"m":"L","x":1.58,"y":0.15},{"m":"L","x":1.58,"y":-0.72},{"m":"L","x":1.59,"y":-0.25},{"m":"L","x":1.62,"y":0.18},{"m":"L","x":1.635,"y":0.4},{"m":"L","x":1.635,"y":0.05},{"m":"L","x":1.655,"y":-0.6},{"m":"L","x":1.675,"y":0.75},{"m":"L","x":1.685,"y":1.07},{"m":"L","x":1.695,"y":1.05},{"m":"L","x":1.7,"y":0.25},{"m":"L","x":1.78,"y":0.18},{"m":"L","x":1.78,"y":-0.68},{"m":"L","x":1.8,"y":1.05}],
"rRD":[{"m":"Z","k":"s","y":0},{"m":"I","k":"s","y":0.15},{"m":"N","k":"s","y":0.20},{"m":"L","k":"s","y":0.25},{"m":"I","k":"d","y":1.83},{"m":"I","k":"d","y":-1.49},{"m":"N","k":"d","y":1.80},{"m":"N","k":"d","y":-1.33},{"m":"L","k":"d","y":1.47},{"m":"L","k":"d","y":-1.0}],
"bK":[
{"m":"I","x":3.11,"y":-0.062},{"m":"I","x":3.12,"y":0.06},{"m":"I","x":3.13,"y":0.043},{"m":"I","x":3.13,"y":0.086},{"m":"I","x":3.14,"y":-0.076},{"m":"I","x":3.15,"y":0.074},{"m":"I","x":3.15,"y":-0.022},{"m":"I","x":3.16,"y":0.07},{"m":"I","x":3.165,"y":0.075},{"m":"I","x":3.165,"y":-0.095},{"m":"I","x":3.17,"y":-0.075},{"m":"I","x":3.18,"y":0.035},{"m":"I","x":3.195,"y":0.115},{"m":"I","x":3.2,"y":0.062},{"m":"I","x":3.21,"y":0.05},{"m":"I","x":3.215,"y":-0.075},{"m":"I","x":3.215,"y":-0.088},{"m":"I","x":3.23,"y":0.063},{"m":"I","x":3.24,"y":0.065},{"m":"I","x":3.25,"y":0.1},{"m":"I","x":3.255,"y":0.075},{"m":"I","x":3.26,"y":-0.002},{"m":"I","x":3.29,"y":0.078},{"m":"I","x":3.29,"y":-0.028},{"m":"I","x":3.3,"y":0.088},{"m":"I","x":3.31,"y":-0.055},{"m":"I","x":3.33,"y":-0.028},{"m":"I","x":3.35,"y":-0.072},{"m":"I","x":3.225,"y":-0.002},
{"m":"N","x":3.23,"y":-0.012},{"m":"N","x":3.255,"y":0.08},{"m":"N","x":3.26,"y":0.038},{"m":"N","x":3.31,"y":0.065},{"m":"N","x":3.31,"y":-0.015},{"m":"N","x":3.32,"y":0.013},{"m":"N","x":3.32,"y":-0.093},{"m":"N","x":3.33,"y":0.035},{"m":"N","x":3.33,"y":0.03},{"m":"N","x":3.355,"y":-0.048},{"m":"N","x":3.365,"y":0.025},{"m":"N","x":3.38,"y":0.06},{"m":"N","x":3.38,"y":0.035},{"m":"N","x":3.375,"y":0.05},{"m":"N","x":3.405,"y":-0.002},{"m":"N","x":3.41,"y":0.105},{"m":"N","x":3.415,"y":0.0},{"m":"N","x":3.42,"y":0.07},{"m":"N","x":3.425,"y":0.1},{"m":"N","x":3.43,"y":0.035},{"m":"N","x":3.435,"y":-0.012},{"m":"N","x":3.445,"y":-0.112},{"m":"N","x":3.485,"y":0.072},{"m":"N","x":3.495,"y":-0.037},{"m":"N","x":3.5,"y":0.025},{"m":"N","x":3.505,"y":0.028},{"m":"N","x":3.51,"y":-0.012},
{"m":"L","x":3.175,"y":0.082},{"m":"L","x":3.22,"y":0.09},{"m":"L","x":3.23,"y":0.055},{"m":"L","x":3.235,"y":0.022},{"m":"L","x":3.24,"y":0.007},{"m":"L","x":3.26,"y":0.067},{"m":"L","x":3.265,"y":0.033},{"m":"L","x":3.275,"y":-0.012},{"m":"L","x":3.28,"y":-0.048},{"m":"L","x":3.285,"y":-0.045},{"m":"L","x":3.3,"y":0.003},{"m":"L","x":3.31,"y":0.045},{"m":"L","x":3.33,"y":0.05},{"m":"L","x":3.335,"y":0.065},{"m":"L","x":3.34,"y":0.09},{"m":"L","x":3.34,"y":0.005},{"m":"L","x":3.345,"y":0.055},{"m":"L","x":3.34,"y":-0.028},{"m":"L","x":3.35,"y":0.055},{"m":"L","x":3.355,"y":0.0},{"m":"L","x":3.37,"y":0.068},{"m":"L","x":3.395,"y":-0.022},{"m":"L","x":3.41,"y":0.065},{"m":"L","x":3.42,"y":0.052},{"m":"L","x":3.425,"y":-0.045},{"m":"L","x":3.43,"y":0.105},{"m":"L","x":3.46,"y":0.048},{"m":"L","x":3.47,"y":-0.04},{"m":"L","x":3.5,"y":0.1},{"m":"L","x":3.51,"y":-0.108}],
"rK":[{"m":"Z","k":"s","y":0},{"m":"I","k":"s","y":0.019},{"m":"N","k":"s","y":0.022},{"m":"L","k":"s","y":0.027},{"m":"I","k":"d","y":0.151},{"m":"I","k":"d","y":-0.113},{"m":"N","k":"d","y":0.122},{"m":"N","k":"d","y":-0.078},{"m":"L","k":"d","y":0.131},{"m":"L","k":"d","y":-0.076}],
"bf":[{"m":"I","x":0.0263,"y":-0.0094},{"m":"I","x":0.0289,"y":0.0293},{"m":"I","x":0.0327,"y":0.0239},{"m":"I","x":0.0343,"y":0.0126},{"m":"I","x":0.0381,"y":-0.0154},{"m":"I","x":0.0394,"y":-0.0107},{"m":"I","x":0.0407,"y":-0.0079},{"m":"I","x":0.0412,"y":0.0},{"m":"I","x":0.042,"y":0.035},{"m":"I","x":0.0446,"y":-0.0249},{"m":"I","x":0.0464,"y":-0.0189},{"m":"I","x":0.0469,"y":0.034},{"m":"I","x":0.0471,"y":-0.04},{"m":"I","x":0.0484,"y":0.0025},{"m":"I","x":0.049,"y":-0.011},{"m":"I","x":0.051,"y":0.042},{"m":"I","x":0.0549,"y":0.0293},{"m":"I","x":0.0585,"y":0.012},{"m":"I","x":0.0606,"y":0.039},{"m":"I","x":0.0644,"y":-0.046},{"m":"I","x":0.0644,"y":0.016},{"m":"I","x":0.0704,"y":0.016},{"m":"I","x":0.0709,"y":-0.031},{"m":"I","x":0.0716,"y":-0.035},{"m":"I","x":0.0735,"y":-0.0195},{"m":"I","x":0.085,"y":0.041},{"m":"I","x":0.0897,"y":0.0},{"m":"I","x":0.0954,"y":-0.0202},{"m":"I","x":0.1082,"y":-0.0274},{"m":"I","x":0.1152,"y":-0.0107}],
"rf":[{"m":"I","k":"s","y":0},{"m":"I","k":"d","y":0.0505},{"m":"I","k":"d","y":-0.0505}]
},
"hconcat":[
{
"title":{"text":"A","subtitle":"Correlations between f and K-FA-MD-AD-RD","anchor":"start","font":"Lato","fontSize":72,"fontWeight":"bold","color":"#000000","dx":4,"subtitleFont":"Lato","subtitleFontSize":27,"subtitleFontWeight":"bold","subtitleColor":"#000000","subtitlePadding":2,"offset":5},
"spacing":3,
"resolve":{"scale":{"color":"independent"},"legend":{"color":"independent"}},
"vconcat":[
{"spacing":4,"resolve":{"scale":{"color":"independent"},"legend":{"color":"independent"}},"hconcat":[
{"width":207,"height":208,"title":{"text":"FA","offset":-52},
"layer":[
{"data":{"name":"aFA"},"mark":{"type":"point","filled":false,"size":36,"strokeWidth":1.5,"opacity":1},
"encoding":{"x":{"field":"x","type":"quantitative","scale":{"domain":[0,0.15],"nice":false,"zero":false},"axis":{"values":[0,0.05,0.1,0.15],"tickCount":20,"labelFontSize":15,"title":"f","titleFontStyle":"italic"}},
"y":{"field":"y","type":"quantitative","scale":{"domain":[0.05,0.35],"nice":false,"zero":false},"axis":{"values":[0.05,0.1,0.15,0.2,0.25,0.3,0.35],"tickCount":20,"labelFontSize":15,"title":"FA"}},
"color":{"field":"m","type":"nominal","scale":{"domain":["L","N","I"],"range":["#000000","#00ff00","#ff0000"]},"legend":{"orient":"none","legendX":-25,"legendY":-57,"title":null,"symbolType":"M-3.2,0H3.2","symbolDash":[5,3],"symbolStrokeWidth":1.8,"symbolSize":81,"symbolOffset":10,"labelOffset":14,"rowPadding":0,"labelExpr":"datum.value=='L'?'[DKI-LIN]\u00a0\u00a0\u00a0\u00a0\u00a0\u00a0\u00a0\u00a0\u00a0\u00a0Corr=-0.17 p= 0.18 slope=-0.283':datum.value=='N'?'[DKI-NONLIN] Corr=-0.20 p= 0.13 slope=-0.338':'[DKI-IVIM]\u00a0\u00a0\u00a0\u00a0\u00a0\u00a0\u00a0\u00a0Corr=-0.02 p= 0.86 slope=-0.042'"}}}},
{"data":{"name":"lFA"},"mark":{"type":"line","strokeWidth":1.6},"encoding":{"x":{"field":"x","type":"quantitative"},"y":{"field":"y","type":"quantitative"},"color":{"field":"m","type":"nominal"}}}
]},
{"width":207,"height":208,"title":{"text":"MD","offset":-52},
"layer":[
{"data":{"name":"aMD"},"mark":{"type":"point","filled":false,"size":36,"strokeWidth":1.5,"opacity":1},
"encoding":{"x":{"field":"x","type":"quantitative","scale":{"domain":[0,0.15],"nice":false,"zero":false},"axis":{"values":[0,0.05,0.1,0.15],"tickCount":20,"labelFontSize":15,"title":"f","titleFontStyle":"italic"}},
"y":{"field":"y","type":"quantitative","scale":{"domain":[1.4,2.2],"nice":false,"zero":false},"axis":{"values":[1.4,1.6,1.8,2,2.2],"tickCount":20,"labelFontSize":15,"title":"MD[mm²/s]"}},
"color":{"field":"m","type":"nominal","scale":{"domain":["L","N","I"],"range":["#000000","#00ff00","#ff0000"]},"legend":{"orient":"none","legendX":-31,"legendY":-57,"title":null,"symbolType":"M-3.2,0H3.2","symbolDash":[5,3],"symbolStrokeWidth":1.8,"symbolSize":81,"symbolOffset":10,"labelOffset":14,"rowPadding":0,"labelExpr":"datum.value=='L'?'[DKI-LIN]\u00a0\u00a0\u00a0\u00a0\u00a0\u00a0\u00a0\u00a0\u00a0\u00a0Corr=0.63 p≤0.01 slope=0.002':datum.value=='N'?'[DKI-NONLIN] Corr=0.67 p≤0.01 slope=0.003':'[DKI-IVIM]\u00a0\u00a0\u00a0\u00a0\u00a0\u00a0\u00a0\u00a0Corr=0.06 p= 0.64 slope≤0.001'"}}}},
{"data":{"name":"lMD"},"mark":{"type":"line","strokeWidth":1.6},"encoding":{"x":{"field":"x","type":"quantitative"},"y":{"field":"y","type":"quantitative"},"color":{"field":"m","type":"nominal"}}},
{"data":{"values":[{"t":"×10⁻³"}]},"mark":{"type":"text","align":"left","baseline":"bottom","dy":-1,"fontSize":15,"color":"#262626"},"encoding":{"x":{"datum":0},"y":{"datum":2.2},"text":{"field":"t"}}}
]}
]},
{"spacing":14,"resolve":{"scale":{"color":"independent"},"legend":{"color":"independent"}},"hconcat":[
{"width":207,"height":206,"title":{"text":"AD","offset":-55},
"layer":[
{"data":{"name":"aAD"},"mark":{"type":"point","filled":false,"size":36,"strokeWidth":1.5,"opacity":1},
"encoding":{"x":{"field":"x","type":"quantitative","scale":{"domain":[0,0.15],"nice":false,"zero":false},"axis":{"values":[0,0.05,0.1,0.15],"tickCount":20,"labelFontSize":15,"title":"f","titleFontStyle":"italic"}},
"y":{"field":"y","type":"quantitative","scale":{"domain":[1.6,2.8],"nice":false,"zero":false},"axis":{"values":[1.6,1.8,2,2.2,2.4,2.6,2.8],"tickCount":20,"labelFontSize":15,"title":"AD[mm²/s]"}},
"color":{"field":"m","type":"nominal","scale":{"domain":["L","N","I"],"range":["#000000","#00ff00","#ff0000"]},"legend":{"orient":"none","legendX":-35,"legendY":-60,"title":null,"symbolType":"M-3.2,0H3.2","symbolDash":[5,3],"symbolStrokeWidth":1.8,"symbolSize":81,"symbolOffset":10,"labelOffset":14,"rowPadding":0,"labelExpr":"datum.value=='L'?'[DKI-LIN]\u00a0\u00a0\u00a0\u00a0\u00a0\u00a0\u00a0\u00a0\u00a0\u00a0Corr=0.42 p≤0.01 slope=0.002':datum.value=='N'?'[DKI-NONLIN] Corr=0.51 p≤0.01 slope=0.003':'[DKI-IVIM]\u00a0\u00a0\u00a0\u00a0\u00a0\u00a0\u00a0\u00a0Corr=0.02 p= 0.87 slope≤0.001'"}}}},
{"data":{"name":"lAD"},"mark":{"type":"line","strokeWidth":1.6},"encoding":{"x":{"field":"x","type":"quantitative"},"y":{"field":"y","type":"quantitative"},"color":{"field":"m","type":"nominal"}}},
{"data":{"values":[{"t":"×10⁻³"}]},"mark":{"type":"text","align":"left","baseline":"bottom","dy":-1,"fontSize":15,"color":"#262626"},"encoding":{"x":{"datum":0},"y":{"datum":2.8},"text":{"field":"t"}}}
]},
{"width":207,"height":206,"title":{"text":"RD","offset":-55},
"layer":[
{"data":{"name":"aRD"},"mark":{"type":"point","filled":false,"size":36,"strokeWidth":1.5,"opacity":1},
"encoding":{"x":{"field":"x","type":"quantitative","scale":{"domain":[0,0.15],"nice":false,"zero":false},"axis":{"values":[0,0.05,0.1,0.15],"tickCount":20,"labelFontSize":15,"title":"f","titleFontStyle":"italic"}},
"y":{"field":"y","type":"quantitative","scale":{"domain":[1.2,2],"nice":false,"zero":false},"axis":{"values":[1.2,1.4,1.6,1.8,2],"tickCount":20,"labelFontSize":15,"title":"RD[mm²/s]"}},
"color":{"field":"m","type":"nominal","scale":{"domain":["L","N","I"],"range":["#000000","#00ff00","#ff0000"]},"legend":{"orient":"none","legendX":-35,"legendY":-60,"title":null,"symbolType":"M-3.2,0H3.2","symbolDash":[5,3],"symbolStrokeWidth":1.8,"symbolSize":81,"symbolOffset":10,"labelOffset":14,"rowPadding":0,"labelExpr":"datum.value=='L'?'[DKI-LIN]\u00a0\u00a0\u00a0\u00a0\u00a0\u00a0\u00a0\u00a0\u00a0\u00a0Corr=0.62 p≤0.01 slope=0.002':datum.value=='N'?'[DKI-NONLIN] Corr=0.64 p≤0.01 slope=0.003':'[DKI-IVIM]\u00a0\u00a0\u00a0\u00a0\u00a0\u00a0\u00a0\u00a0Corr=0.06 p= 0.65 slope≤0.001'"}}}},
{"data":{"name":"lRD"},"mark":{"type":"line","strokeWidth":1.6},"encoding":{"x":{"field":"x","type":"quantitative"},"y":{"field":"y","type":"quantitative"},"color":{"field":"m","type":"nominal"}}},
{"data":{"values":[{"t":"×10⁻³"}]},"mark":{"type":"text","align":"left","baseline":"bottom","dy":-1,"fontSize":15,"color":"#262626"},"encoding":{"x":{"datum":0},"y":{"datum":2},"text":{"field":"t"}}}
]}
]},
{"resolve":{"scale":{"color":"independent"},"legend":{"color":"independent"}},"hconcat":[
{"width":207,"height":206,"title":{"text":"K","fontStyle":"italic","offset":-54},
"layer":[
{"data":{"name":"aK"},"mark":{"type":"point","filled":false,"size":36,"strokeWidth":1.5,"opacity":1},
"encoding":{"x":{"field":"x","type":"quantitative","scale":{"domain":[0,0.15],"nice":false,"zero":false},"axis":{"values":[0,0.05,0.1,0.15],"tickCount":20,"labelFontSize":15,"title":"f","titleFontStyle":"italic"}},
"y":{"field":"y","type":"quantitative","scale":{"domain":[3,3.6],"nice":false,"zero":false},"axis":{"values":[3,3.1,3.2,3.3,3.4,3.5,3.6],"tickCount":20,"labelFontSize":15,"title":"K","titleFontStyle":"italic"}},
"color":{"field":"m","type":"nominal","scale":{"domain":["L","N","I"],"range":["#000000","#00ff00","#ff0000"]},"legend":{"orient":"none","legendX":-20,"legendY":-58,"title":null,"symbolType":"M-3.2,0H3.2","symbolDash":[5,3],"symbolStrokeWidth":1.8,"symbolSize":81,"symbolOffset":10,"labelOffset":14,"rowPadding":0,"labelExpr":"datum.value=='L'?'[DKI-LIN]\u00a0\u00a0\u00a0\u00a0\u00a0\u00a0\u00a0\u00a0\u00a0\u00a0Corr=0.33 p=0.01 slope=1.14':datum.value=='N'?'[DKI-NONLIN] Corr=0.56 p≤0.01 slope=1.84':'[DKI-IVIM]\u00a0\u00a0\u00a0\u00a0\u00a0\u00a0\u00a0\u00a0Corr=0.03 p= 0.79 slope=0.10'"}}}},
{"data":{"name":"lK"},"mark":{"type":"line","strokeWidth":1.6},"encoding":{"x":{"field":"x","type":"quantitative"},"y":{"field":"y","type":"quantitative"},"color":{"field":"m","type":"nominal"}}}
]}
]}
]
},
{
"width":4,"height":862,
"data":{"values":[{}]},
"mark":{"type":"rule","strokeDash":[12,6],"strokeWidth":3.5,"color":"#000000"},
"encoding":{"x":{"datum":0.5,"type":"quantitative","scale":{"domain":[0,1]},"axis":null},"y":{"datum":0,"type":"quantitative","scale":{"domain":[0,1]},"axis":null},"y2":{"datum":1.035}}
},
{
"title":{"text":"B","subtitle":"K-FA-MD-AD-RD Bland Altman plots","anchor":"end","font":"Lato","fontSize":72,"fontWeight":"bold","color":"#000000","dx":-20,"subtitleFont":"Lato","subtitleFontSize":27,"subtitleFontWeight":"bold","subtitleColor":"#000000","subtitlePadding":2,"offset":38},
"resolve":{"scale":{"color":"independent"},"legend":{"color":"independent"}},
"vconcat":[
{"title":{"text":"Difference between two measures","orient":"left","anchor":"middle","font":"Liberation Sans","fontSize":22,"fontWeight":"bold","color":"#000000","offset":-3},
"spacing":22,
"resolve":{"scale":{"color":"independent"},"legend":{"color":"independent"}},
"vconcat":[
{"spacing":46,"title":{"text":"Average of two measures","orient":"bottom","anchor":"middle","font":"Liberation Sans","fontSize":16,"fontWeight":"bold","color":"#000000","offset":-1},
"resolve":{"scale":{"color":"independent"},"legend":{"color":"independent"}},
"hconcat":[
{"width":212,"height":210,"title":{"text":"FA","offset":0},
"layer":[
{"data":{"name":"rFA"},"mark":{"type":"rule","strokeWidth":2},"encoding":{"y":{"field":"y","type":"quantitative","scale":{"domain":[-0.1,0.1],"nice":false,"zero":false},"axis":{"values":[-0.1,-0.05,0,0.05,0.1],"tickCount":20,"title":null}},"color":{"field":"m","type":"nominal","scale":{"domain":["L","N","I","Z"],"range":["#000000","#00ff00","#ff0000","#a6a6a6"]},"legend":null},"strokeDash":{"field":"k","type":"nominal","scale":{"domain":["s","d"],"range":[[1,0],[5,3]]},"legend":null}}},
{"data":{"name":"bFA"},"mark":{"type":"point","filled":false,"size":36,"strokeWidth":1.5,"opacity":1},"encoding":{"x":{"field":"x","type":"quantitative","scale":{"domain":[0,0.5],"nice":false,"zero":false},"axis":{"values":[0,0.2,0.4],"tickCount":20,"title":null}},"y":{"field":"y","type":"quantitative"},"color":{"field":"m","type":"nominal","legend":null}}}
]},
{"width":212,"height":210,"title":{"text":"MD[mm²/s]","offset":-12},
"layer":[
{"data":{"name":"rMD"},"mark":{"type":"rule","strokeWidth":2},"encoding":{"y":{"field":"y","type":"quantitative","scale":{"domain":[-3.5,3.5],"nice":false,"zero":false},"axis":{"values":[-3,-2,-1,0,1,2,3],"tickCount":20,"title":null}},"color":{"field":"m","type":"nominal","scale":{"domain":["L","N","I","Z"],"range":["#000000","#00ff00","#ff0000","#a6a6a6"]},"legend":null},"strokeDash":{"field":"k","type":"nominal","scale":{"domain":["s","d"],"range":[[1,0],[5,3]]},"legend":null}}},
{"data":{"name":"bMD"},"mark":{"type":"point","filled":false,"size":36,"strokeWidth":1.5,"opacity":1},"encoding":{"x":{"field":"x","type":"quantitative","scale":{"domain":[1.4,2.1],"nice":false,"zero":false},"axis":{"values":[1.4,1.6,1.8,2],"tickCount":20,"title":null}},"y":{"field":"y","type":"quantitative"},"color":{"field":"m","type":"nominal","legend":null}}},
{"data":{"values":[{"t":"×10⁻⁴"}]},"mark":{"type":"text","align":"left","baseline":"bottom","dy":-1,"fontSize":14,"color":"#262626"},"encoding":{"x":{"datum":1.4},"y":{"datum":3.5},"text":{"field":"t"}}},
{"data":{"values":[{"t":"×10⁻³"}]},"mark":{"type":"text","align":"right","baseline":"top","dy":28,"fontSize":14,"color":"#262626"},"encoding":{"x":{"datum":2.1},"y":{"datum":-3.5},"text":{"field":"t"}}}
]}
]},
{"spacing":46,"title":{"text":"Average of two measures","orient":"bottom","anchor":"middle","font":"Liberation Sans","fontSize":16,"fontWeight":"bold","color":"#000000","offset":2},
"resolve":{"scale":{"color":"independent"},"legend":{"color":"independent"}},
"hconcat":[
{"width":212,"height":210,"title":{"text":"AD[mm²/s]","offset":-12},
"layer":[
{"data":{"name":"rAD"},"mark":{"type":"rule","strokeWidth":2},"encoding":{"y":{"field":"y","type":"quantitative","scale":{"domain":[-3.5,3.5],"nice":false,"zero":false},"axis":{"values":[-3,-2,-1,0,1,2,3],"tickCount":20,"title":null}},"color":{"field":"m","type":"nominal","scale":{"domain":["L","N","I","Z"],"range":["#000000","#00ff00","#ff0000","#a6a6a6"]},"legend":null},"strokeDash":{"field":"k","type":"nominal","scale":{"domain":["s","d"],"range":[[1,0],[5,3]]},"legend":null}}},
{"data":{"name":"bAD"},"mark":{"type":"point","filled":false,"size":36,"strokeWidth":1.5,"opacity":1},"encoding":{"x":{"field":"x","type":"quantitative","scale":{"domain":[1.7,2.6],"nice":false,"zero":false},"axis":{"values":[1.8,2,2.2,2.4],"tickCount":20,"title":null}},"y":{"field":"y","type":"quantitative"},"color":{"field":"m","type":"nominal","legend":null}}},
{"data":{"values":[{"t":"×10⁻⁴"}]},"mark":{"type":"text","align":"left","baseline":"bottom","dy":-1,"fontSize":14,"color":"#262626"},"encoding":{"x":{"datum":1.7},"y":{"datum":3.5},"text":{"field":"t"}}},
{"data":{"values":[{"t":"×10⁻³"}]},"mark":{"type":"text","align":"right","baseline":"top","dy":28,"fontSize":14,"color":"#262626"},"encoding":{"x":{"datum":2.6},"y":{"datum":-3.5},"text":{"field":"t"}}}
]},
{"width":212,"height":210,"title":{"text":"RD[mm²/s]","offset":-12},
"layer":[
{"data":{"name":"rRD"},"mark":{"type":"rule","strokeWidth":2},"encoding":{"y":{"field":"y","type":"quantitative","scale":{"domain":[-3.5,3.5],"nice":false,"zero":false},"axis":{"values":[-3,-2,-1,0,1,2,3],"tickCount":20,"title":null}},"color":{"field":"m","type":"nominal","scale":{"domain":["L","N","I","Z"],"range":["#000000","#00ff00","#ff0000","#a6a6a6"]},"legend":null},"strokeDash":{"field":"k","type":"nominal","scale":{"domain":["s","d"],"range":[[1,0],[5,3]]},"legend":null}}},
{"data":{"name":"bRD"},"mark":{"type":"point","filled":false,"size":36,"strokeWidth":1.5,"opacity":1},"encoding":{"x":{"field":"x","type":"quantitative","scale":{"domain":[1.1,1.9],"nice":false,"zero":false},"axis":{"values":[1.2,1.4,1.6,1.8],"tickCount":20,"title":null}},"y":{"field":"y","type":"quantitative"},"color":{"field":"m","type":"nominal","legend":null}}},
{"data":{"values":[{"t":"×10⁻⁴"}]},"mark":{"type":"text","align":"left","baseline":"bottom","dy":-1,"fontSize":14,"color":"#262626"},"encoding":{"x":{"datum":1.1},"y":{"datum":3.5},"text":{"field":"t"}}},
{"data":{"values":[{"t":"×10⁻³"}]},"mark":{"type":"text","align":"right","baseline":"top","dy":28,"fontSize":14,"color":"#262626"},"encoding":{"x":{"datum":1.9},"y":{"datum":-3.5},"text":{"field":"t"}}}
]}
]},
{"spacing":24,"title":{"text":"Average of two measures","orient":"bottom","anchor":"middle","font":"Liberation Sans","fontSize":16,"fontWeight":"bold","color":"#000000","offset":4},
"resolve":{"scale":{"color":"independent"},"legend":{"color":"independent"}},
"hconcat":[
{"width":194,"height":212,"title":{"text":"K","fontStyle":"italic","offset":-6},
"layer":[
{"data":{"name":"rK"},"mark":{"type":"rule","strokeWidth":2},"encoding":{"y":{"field":"y","type":"quantitative","scale":{"domain":[-0.2,0.2],"nice":false,"zero":false},"axis":{"values":[-0.2,-0.1,0,0.1,0.2],"tickCount":20,"title":null}},"color":{"field":"m","type":"nominal","scale":{"domain":["L","N","I","Z"],"range":["#000000","#00ff00","#ff0000","#a6a6a6"]},"legend":null},"strokeDash":{"field":"k","type":"nominal","scale":{"domain":["s","d"],"range":[[1,0],[5,3]]},"legend":null}}},
{"data":{"name":"bK"},"mark":{"type":"point","filled":false,"size":36,"strokeWidth":1.5,"opacity":1},"encoding":{"x":{"field":"x","type":"quantitative","scale":{"domain":[3,3.6],"nice":false,"zero":false},"axis":{"values":[3,3.2,3.4,3.6],"tickCount":20,"title":null}},"y":{"field":"y","type":"quantitative"},"color":{"field":"m","type":"nominal","legend":null}}}
]},
{"width":194,"height":212,"title":{"text":"f","fontStyle":"italic","offset":-6},
"layer":[
{"data":{"name":"rf"},"mark":{"type":"rule","strokeWidth":2},"encoding":{"y":{"field":"y","type":"quantitative","scale":{"domain":[-0.1,0.1],"nice":false,"zero":false},"axis":{"values":[-0.1,-0.05,0,0.05,0.1],"tickCount":20,"title":null}},"color":{"field":"m","type":"nominal","scale":{"domain":["L","N","I","Z"],"range":["#000000","#00ff00","#ff0000","#a6a6a6"]},"legend":null},"strokeDash":{"field":"k","type":"nominal","scale":{"domain":["s","d"],"range":[[1,0],[5,3]]},"legend":null}}},
{"data":{"name":"bf"},"mark":{"type":"point","filled":false,"size":36,"strokeWidth":1.5,"opacity":1},"encoding":{"x":{"field":"x","type":"quantitative","scale":{"domain":[0,0.15],"nice":false,"zero":false},"axis":{"values":[0,0.05,0.1,0.15],"tickCount":20,"title":null}},"y":{"field":"y","type":"quantitative"},"color":{"field":"m","type":"nominal","legend":null}}}
]}
]}
]}
]
}
],
"config":{
"view":{"stroke":null},
"font":"Liberation Sans",
"axis":{"grid":false,"domainColor":"#262626","domainWidth":1.5,"ticks":false,"labelColor":"#262626","labelFontSize":13,"labelFont":"Liberation Sans","labelFlush":false,"labelOverlap":false,"labelPadding":3,"tickCount":20,"format":"~g","titleFont":"Liberation Sans","titleFontSize":16,"titleFontWeight":"normal","titleColor":"#262626","titlePadding":4},
"title":{"font":"Liberation Sans","fontSize":16,"fontWeight":"normal","color":"#262626","offset":4},
"legend":{"labelFont":"Liberation Sans","labelFontSize":10.3,"labelColor":"#262626","strokeColor":"#808080","fillColor":"#ffffff","padding":3,"labelLimit":600,"direction":"vertical"}
}
}
